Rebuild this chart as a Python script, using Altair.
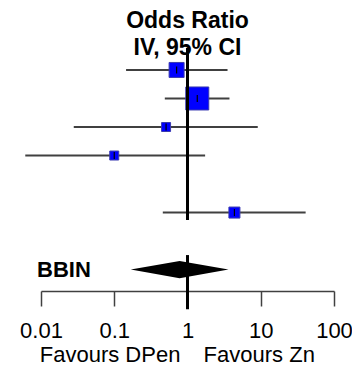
import altair as alt
import pandas as pd

# Study estimates (odds ratios, 95% CI)
odds_ratio = [0.71, 1.36, 0.51, 0.10, 4.37]
ci_low = [0.145, 0.49, 0.028, 0.0061, 0.46]
ci_high = [3.52, 3.74, 9.1, 1.74, 41.0]
weight_pct = [21.7, 51.0, 7.8, 7.8, 11.7]
row_index = [1, 2, 3, 4, 6]

# Pooled estimate
pooled_label = ["BBIN"]
pooled_or = [0.78]
pooled_low = [0.168]
pooled_high = [3.63]
pooled_row = [8]

# Line of no effect segments (rows)
null_value = [1, 1]
null_row_start = [0.23, 7.49]
null_row_end = [6.26, 9.39]

tick_values = [0.01, 0.1, 1, 10, 100]
favour_labels = ["Favours DPen", "Favours Zn"]
favour_x = [0.8, 1.66]
favour_row = [11.245, 11.245]

FONT = "Liberation Sans"

studies = pd.DataFrame({"or": odds_ratio, "lo": ci_low, "hi": ci_high,
                        "w": weight_pct, "row": row_index})
diamond = pd.DataFrame({
    "x": [pooled_low[0], pooled_or[0], pooled_high[0]],
    "y": [pooled_row[0], pooled_row[0] - 0.3, pooled_row[0]],
    "y2": [pooled_row[0], pooled_row[0] + 0.3, pooled_row[0]],
})
pooled = pd.DataFrame({"label": pooled_label, "x": [0.01], "row": pooled_row})
nulls = pd.DataFrame({"x": null_value, "y": null_row_start, "y2": null_row_end})
fav = pd.DataFrame({"label": favour_labels, "x": favour_x, "row": favour_row})

xscale = alt.Scale(type="log", domain=[0.01, 100], nice=False)
yscale = alt.Scale(domain=[0.23, 8.75], reverse=True, nice=False, zero=False)

xaxis = alt.Axis(values=tick_values, format="~g", title=None, grid=False,
                 tickSize=15, labelFontSize=22, labelFont=FONT, labelColor="black",
                 labelBaseline="alphabetic", labelPadding=31.5, labelFlush=False,
                 labelOverlap=False, domainColor="#404040", domainWidth=1.5,
                 tickColor="#404040", tickWidth=1.5)

X = lambda f: alt.X(f, type="quantitative", scale=xscale, axis=xaxis)
Y = lambda f: alt.Y(f, type="quantitative", scale=yscale, axis=None)

ci = alt.Chart(studies).mark_rule(color="#404040", strokeWidth=2).encode(
    x=X("lo"), x2="hi", y=Y("row"))

boxes = alt.Chart(studies).mark_point(shape="square", filled=True, fill="#0000ff",
                                      stroke="#3a3ab0", strokeWidth=1, opacity=1).encode(
    x=X("or"), y=Y("row"),
    size=alt.Size("w:Q", scale=alt.Scale(domain=[0, 100], range=[0, 1037]), legend=None))

ticks = alt.Chart(studies).mark_tick(orient="vertical", size=7, thickness=1.2,
                                     color="black", opacity=1).encode(
    x=X("or"), y=Y("row"))

diam = alt.Chart(diamond).mark_area(color="black", opacity=1).encode(
    x=X("x"), y=Y("y"), y2="y2")

null_line = alt.Chart(nulls).mark_rule(color="black", strokeWidth=3).encode(
    x=X("x"), y=Y("y"), y2="y2")

pooled_text = alt.Chart(pooled).mark_text(align="left", dx=-4, baseline="middle",
                                          font=FONT, fontSize=22, fontWeight="bold",
                                          color="black").encode(
    x=X("x"), y=Y("row"), text="label")

fav_left = alt.Chart(fav.iloc[[0]]).mark_text(align="right", baseline="alphabetic",
                                              font=FONT, fontSize=22, color="black").encode(
    x=X("x"), y=Y("row"), text="label")
fav_right = alt.Chart(fav.iloc[[1]]).mark_text(align="left", baseline="alphabetic",
                                               font=FONT, fontSize=22, color="black").encode(
    x=X("x"), y=Y("row"), text="label")

chart = alt.layer(ci, boxes, ticks, diam, null_line, pooled_text, fav_left, fav_right).properties(
    width=293, height=243,
    title=alt.TitleParams(["Odds Ratio", "IV, 95% CI"], font=FONT, fontSize=23,
                          fontWeight="bold", color="black", anchor="middle",
                          frame="group", lineHeight=27, offset=-13.5),
    autosize=alt.AutoSizeParams(type="none"),
    padding={"left": 33, "top": 40, "right": 18, "bottom": 76},
).configure_view(stroke=None)

chart.save("out.html", embed_options={"renderer": "svg", "actions": False})
